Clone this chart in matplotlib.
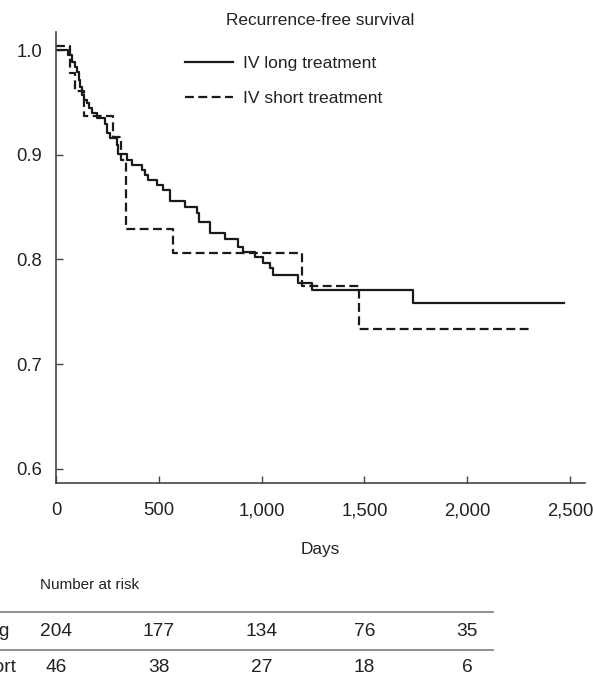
import matplotlib.pyplot as plt
from matplotlib.lines import Line2D
from matplotlib.ticker import FuncFormatter
from matplotlib.transforms import blended_transform_factory

plt.rcParams['font.family'] = ['Liberation Sans', 'DejaVu Sans']

# step curves: day of each drop and survival after it
long_days = [0, 58, 78, 92, 102, 112, 117, 126, 136, 151,
             161, 175, 199, 238, 248, 263, 297, 302, 345, 370,
             418, 433, 447, 491, 520, 554, 627, 686, 696, 749,
             822, 885, 910, 968, 1007, 1041, 1055, 1177, 1245, 1736]
long_surv = [1.000, 0.995, 0.989, 0.984, 0.979, 0.971, 0.965, 0.957, 0.952, 0.949,
             0.945, 0.940, 0.935, 0.929, 0.921, 0.916, 0.909, 0.901, 0.895, 0.890,
             0.885, 0.881, 0.876, 0.871, 0.866, 0.856, 0.850, 0.844, 0.836, 0.825,
             0.820, 0.812, 0.807, 0.802, 0.797, 0.792, 0.785, 0.778, 0.771, 0.758]
long_end = 2471

short_days = [0, 68, 92, 136, 277, 316, 340, 569, 1196, 1474]
short_surv = [1.004, 0.978, 0.961, 0.937, 0.917, 0.895, 0.829, 0.806, 0.775, 0.734]
short_end = 2305

# number at risk table
risk_days = [0, 500, 1000, 1500, 2000]
risk_long = [204, 177, 134, 76, 35]
risk_short = [46, 38, 27, 18, 6]

W, H = 593, 684
fig = plt.figure(figsize=(W / 100, H / 100), dpi=100)
ax = fig.add_axes([56 / W, 1 - 483 / H, 529 / W, 451 / H])

ink = '#1a1a1a'
ax.step(long_days + [long_end], long_surv + [long_surv[-1]], where='post',
        color=ink, lw=1.6, label='IV long treatment')
ax.step(short_days + [short_end], short_surv + [short_surv[-1]], where='post',
        color=ink, lw=1.6, ls=(0, (4, 2)), label='IV short treatment')

ax.set_xlim(0, 2573)
ax.set_ylim(0.5866, 1.0172)
ax.set_xticks([0, 500, 1000, 1500, 2000, 2500])
ax.set_yticks([0.6, 0.7, 0.8, 0.9, 1.0])
ax.xaxis.set_major_formatter(FuncFormatter(lambda v, p: f'{int(v):,}'))
ax.yaxis.set_major_formatter(FuncFormatter(lambda v, p: f'{v:.1f}'))

for s in ['top', 'right']:
    ax.spines[s].set_visible(False)
for s in ['left', 'bottom']:
    ax.spines[s].set_color('#444444')
    ax.spines[s].set_linewidth(1.2)
ax.tick_params(axis='both', direction='in', length=5, width=1, color='#444444',
               labelsize=13.3, labelcolor='#222222')
ax.tick_params(axis='y', pad=10)
ax.tick_params(axis='x', pad=14)

ax.set_title('Recurrence-free survival', fontsize=12.4, color='#222222', pad=5)
ax.set_xlabel('Days', fontsize=12.4, color='#222222', labelpad=16)

ax.legend(loc='upper left', bbox_to_anchor=(185 / W, 1 - 56 / H),
          bbox_transform=fig.transFigure, frameon=False, fontsize=12.6,
          handlelength=2.75, handletextpad=0.55, labelspacing=1.12,
          borderpad=0, borderaxespad=0, labelcolor='#222222')

# number at risk
fig.text(40 / W, 1 - 585 / H, 'Number at risk', fontsize=11, color='#222222',
         ha='left', va='center')
tr = blended_transform_factory(ax.transData, fig.transFigure)
for py in [612, 650]:
    fig.add_artist(Line2D([0, 493 / W], [1 - py / H] * 2, transform=fig.transFigure,
                          color='#888888', lw=1.3))
fig.text(-50 / W, 1 - 631 / H, 'IV long', fontsize=13.8, color='#222222',
         ha='left', va='center')
fig.text(-50 / W, 1 - 668 / H, 'IV short', fontsize=13.8, color='#222222',
         ha='left', va='center')
for d, a, b in zip(risk_days, risk_long, risk_short):
    ax.text(d, 1 - 631 / H, str(a), transform=tr, fontsize=13.8, color='#222222',
            ha='center', va='center', clip_on=False)
    ax.text(d, 1 - 668 / H, str(b), transform=tr, fontsize=13.8, color='#222222',
            ha='center', va='center', clip_on=False)

fig.savefig('out.png', dpi=100)
